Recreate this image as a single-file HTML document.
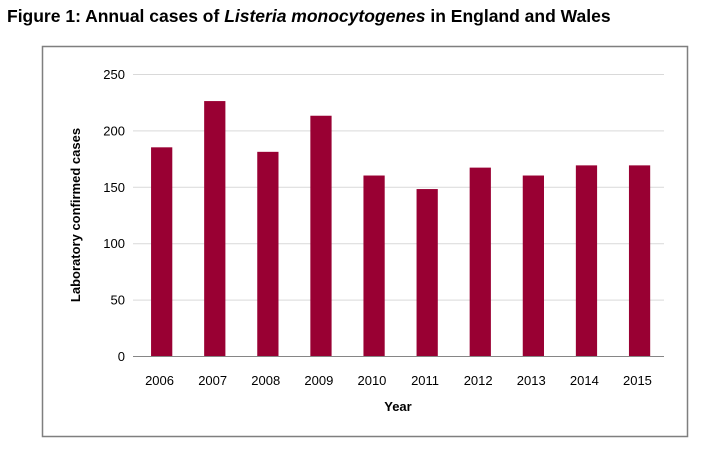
<!DOCTYPE html>
<html><head><meta charset="utf-8"><style>
body{margin:0;background:#fff;font-family:"Liberation Sans",Arial,sans-serif;}
#t{position:absolute;left:7px;top:6px;font-size:17.5px;font-weight:bold;color:#000;white-space:nowrap;}
</style></head><body>
<div id="t">Figure 1: Annual cases of <i>Listeria monocytogenes</i> in England and Wales</div>
<svg id="c" width="717" height="457" style="position:absolute;left:0;top:0">
<rect x="42.5" y="46.5" width="645" height="390" fill="none" stroke="#7f7f7f" stroke-width="1.5"/>
<g id="g"></g>
<text x="80" y="215" transform="rotate(-90 80 215)" text-anchor="middle" font-size="13" font-weight="bold" fill="#000">Laboratory confirmed cases</text>
<text x="398" y="411" text-anchor="middle" font-size="13" font-weight="bold" fill="#000">Year</text>
</svg>
<script>
const categories=["2006","2007","2008","2009","2010","2011","2012","2013","2014","2015"];
const values=[185,226,181,213,160,148,167,160,169,169];
const yTicks=[0,50,100,150,200,250];
const X0=133,X1=664,Y0=356,Y1=74,MAX=250;
const y=v=>Y0-(v/MAX)*(Y0-Y1);
const bw=(X1-X0)/categories.length;
const x=i=>X0+bw*i;
const g=document.getElementById('g');
const NS='http://www.w3.org/2000/svg';
function mk(t,a){const e=document.createElementNS(NS,t);for(const k in a)e.setAttribute(k,a[k]);g.appendChild(e);return e;}
yTicks.forEach(v=>{
  const l=mk('line',{x1:X0,x2:X1,y1:y(v)+0.5,y2:y(v)+0.5,stroke:v===0?'#868686':'#d9d9d9','stroke-width':1});
  
  
  const t=mk('text',{x:X0-8,y:y(v)+5,'text-anchor':'end','font-size':13,fill:'#000'});
  t.textContent=v;
  
  
});
categories.forEach((c,i)=>{
  const b=mk('rect',{x:x(i)+bw*0.34,y:y(values[i]),width:bw*0.4,height:Y0-y(values[i]),fill:'#990033'});
  
  
  const t=mk('text',{x:x(i)+bw/2,y:Y0+29,'text-anchor':'middle','font-size':13,fill:'#000'});
  t.textContent=c;
  
  
});
</script>
</body></html>
